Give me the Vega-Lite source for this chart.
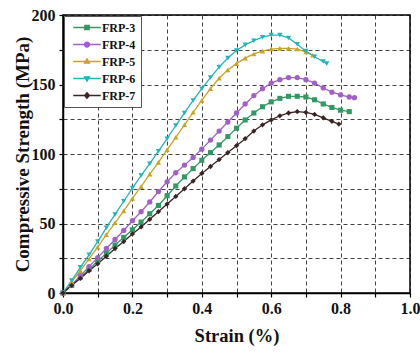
{
  "$schema": "https://vega.github.io/schema/vega-lite/v6.json",
  "width": 347,
  "height": 278,
  "autosize": {"type": "none"},
  "padding": {"left": 63, "top": 15, "right": 10, "bottom": 59},
  "background": "white",
  "config": {
    "view": {"stroke": "black", "strokeWidth": 1.5},
    "font": "Liberation Serif",
    "axis": {
      "labelFont": "Liberation Serif", "labelFontWeight": "bold", "labelFontSize": 16, "labelColor": "#111",
      "titleFont": "Liberation Serif", "titleFontWeight": "bold", "titleFontSize": 18.5, "titleColor": "#111",
      "domainColor": "black", "domainWidth": 1.5, "tickColor": "black", "tickWidth": 1.2,
      "gridColor": "#111", "gridDash": [4, 3], "gridWidth": 1, "gridOpacity": 0.8
    }
  },
  "data": {"values": [
    {"s":"FRP-3","x":0,"y":0},{"s":"FRP-3","x":0.025,"y":5.5},{"s":"FRP-3","x":0.05,"y":11.5},{"s":"FRP-3","x":0.075,"y":17},{"s":"FRP-3","x":0.1,"y":23},{"s":"FRP-3","x":0.125,"y":28.5},{"s":"FRP-3","x":0.15,"y":34.5},{"s":"FRP-3","x":0.175,"y":40},{"s":"FRP-3","x":0.2,"y":45.5},{"s":"FRP-3","x":0.225,"y":51},{"s":"FRP-3","x":0.25,"y":57},{"s":"FRP-3","x":0.275,"y":63},{"s":"FRP-3","x":0.3,"y":70},{"s":"FRP-3","x":0.325,"y":77},{"s":"FRP-3","x":0.35,"y":83.5},{"s":"FRP-3","x":0.375,"y":89.5},{"s":"FRP-3","x":0.4,"y":95.5},{"s":"FRP-3","x":0.425,"y":101},{"s":"FRP-3","x":0.45,"y":106.5},{"s":"FRP-3","x":0.475,"y":112.5},{"s":"FRP-3","x":0.5,"y":118.5},{"s":"FRP-3","x":0.525,"y":124.5},{"s":"FRP-3","x":0.55,"y":129.5},{"s":"FRP-3","x":0.575,"y":134},{"s":"FRP-3","x":0.6,"y":137.5},{"s":"FRP-3","x":0.625,"y":140},{"s":"FRP-3","x":0.65,"y":141.5},{"s":"FRP-3","x":0.675,"y":141.5},{"s":"FRP-3","x":0.7,"y":141},{"s":"FRP-3","x":0.725,"y":139},{"s":"FRP-3","x":0.75,"y":136},{"s":"FRP-3","x":0.775,"y":133.5},{"s":"FRP-3","x":0.8,"y":131.5},{"s":"FRP-3","x":0.825,"y":130.5},
    {"s":"FRP-4","x":0,"y":0},{"s":"FRP-4","x":0.025,"y":6},{"s":"FRP-4","x":0.05,"y":12.5},{"s":"FRP-4","x":0.075,"y":19},{"s":"FRP-4","x":0.1,"y":25.5},{"s":"FRP-4","x":0.125,"y":32},{"s":"FRP-4","x":0.15,"y":38.5},{"s":"FRP-4","x":0.175,"y":45},{"s":"FRP-4","x":0.2,"y":52},{"s":"FRP-4","x":0.225,"y":58.5},{"s":"FRP-4","x":0.25,"y":65.5},{"s":"FRP-4","x":0.275,"y":73},{"s":"FRP-4","x":0.3,"y":80},{"s":"FRP-4","x":0.325,"y":86.5},{"s":"FRP-4","x":0.35,"y":92},{"s":"FRP-4","x":0.375,"y":97.5},{"s":"FRP-4","x":0.4,"y":103.5},{"s":"FRP-4","x":0.425,"y":110},{"s":"FRP-4","x":0.45,"y":116.5},{"s":"FRP-4","x":0.475,"y":123},{"s":"FRP-4","x":0.5,"y":129.5},{"s":"FRP-4","x":0.525,"y":136},{"s":"FRP-4","x":0.55,"y":142},{"s":"FRP-4","x":0.575,"y":147},{"s":"FRP-4","x":0.6,"y":151},{"s":"FRP-4","x":0.625,"y":153.5},{"s":"FRP-4","x":0.65,"y":155},{"s":"FRP-4","x":0.675,"y":155},{"s":"FRP-4","x":0.7,"y":153.5},{"s":"FRP-4","x":0.725,"y":151},{"s":"FRP-4","x":0.75,"y":147.5},{"s":"FRP-4","x":0.775,"y":144.5},{"s":"FRP-4","x":0.8,"y":142.5},{"s":"FRP-4","x":0.825,"y":141},{"s":"FRP-4","x":0.84,"y":140.5},
    {"s":"FRP-5","x":0,"y":0},{"s":"FRP-5","x":0.025,"y":8},{"s":"FRP-5","x":0.05,"y":16},{"s":"FRP-5","x":0.075,"y":24.5},{"s":"FRP-5","x":0.1,"y":33},{"s":"FRP-5","x":0.125,"y":42},{"s":"FRP-5","x":0.15,"y":50.5},{"s":"FRP-5","x":0.175,"y":59},{"s":"FRP-5","x":0.2,"y":68},{"s":"FRP-5","x":0.225,"y":76.5},{"s":"FRP-5","x":0.25,"y":85.5},{"s":"FRP-5","x":0.275,"y":94},{"s":"FRP-5","x":0.3,"y":103},{"s":"FRP-5","x":0.325,"y":112},{"s":"FRP-5","x":0.35,"y":121},{"s":"FRP-5","x":0.375,"y":130},{"s":"FRP-5","x":0.4,"y":138.5},{"s":"FRP-5","x":0.425,"y":147},{"s":"FRP-5","x":0.45,"y":154.5},{"s":"FRP-5","x":0.475,"y":160.5},{"s":"FRP-5","x":0.5,"y":165},{"s":"FRP-5","x":0.525,"y":169},{"s":"FRP-5","x":0.55,"y":172},{"s":"FRP-5","x":0.575,"y":174},{"s":"FRP-5","x":0.6,"y":175.5},{"s":"FRP-5","x":0.625,"y":176},{"s":"FRP-5","x":0.65,"y":176},{"s":"FRP-5","x":0.675,"y":175.5},{"s":"FRP-5","x":0.7,"y":173.5},{"s":"FRP-5","x":0.72,"y":171},
    {"s":"FRP-6","x":0,"y":0},{"s":"FRP-6","x":0.025,"y":9},{"s":"FRP-6","x":0.05,"y":18.5},{"s":"FRP-6","x":0.075,"y":27.5},{"s":"FRP-6","x":0.1,"y":37},{"s":"FRP-6","x":0.125,"y":47},{"s":"FRP-6","x":0.15,"y":56.5},{"s":"FRP-6","x":0.175,"y":66},{"s":"FRP-6","x":0.2,"y":75.5},{"s":"FRP-6","x":0.225,"y":84.5},{"s":"FRP-6","x":0.25,"y":93},{"s":"FRP-6","x":0.275,"y":102},{"s":"FRP-6","x":0.3,"y":111},{"s":"FRP-6","x":0.325,"y":120.5},{"s":"FRP-6","x":0.35,"y":129.5},{"s":"FRP-6","x":0.375,"y":138.5},{"s":"FRP-6","x":0.4,"y":147},{"s":"FRP-6","x":0.425,"y":155},{"s":"FRP-6","x":0.45,"y":162.5},{"s":"FRP-6","x":0.475,"y":169},{"s":"FRP-6","x":0.5,"y":174.5},{"s":"FRP-6","x":0.525,"y":178.5},{"s":"FRP-6","x":0.55,"y":181.5},{"s":"FRP-6","x":0.575,"y":184},{"s":"FRP-6","x":0.6,"y":185.5},{"s":"FRP-6","x":0.625,"y":185.5},{"s":"FRP-6","x":0.65,"y":183.5},{"s":"FRP-6","x":0.675,"y":179},{"s":"FRP-6","x":0.7,"y":174},{"s":"FRP-6","x":0.725,"y":170},{"s":"FRP-6","x":0.75,"y":166.5},{"s":"FRP-6","x":0.76,"y":165},
    {"s":"FRP-7","x":0,"y":0},{"s":"FRP-7","x":0.025,"y":5.5},{"s":"FRP-7","x":0.05,"y":10.5},{"s":"FRP-7","x":0.075,"y":16},{"s":"FRP-7","x":0.1,"y":21},{"s":"FRP-7","x":0.125,"y":26.5},{"s":"FRP-7","x":0.15,"y":32},{"s":"FRP-7","x":0.175,"y":37},{"s":"FRP-7","x":0.2,"y":42.5},{"s":"FRP-7","x":0.225,"y":47.5},{"s":"FRP-7","x":0.25,"y":53},{"s":"FRP-7","x":0.275,"y":58.5},{"s":"FRP-7","x":0.3,"y":64},{"s":"FRP-7","x":0.325,"y":69.5},{"s":"FRP-7","x":0.35,"y":75},{"s":"FRP-7","x":0.375,"y":80.5},{"s":"FRP-7","x":0.4,"y":86},{"s":"FRP-7","x":0.425,"y":91},{"s":"FRP-7","x":0.45,"y":96},{"s":"FRP-7","x":0.475,"y":101},{"s":"FRP-7","x":0.5,"y":106},{"s":"FRP-7","x":0.525,"y":111},{"s":"FRP-7","x":0.55,"y":116.5},{"s":"FRP-7","x":0.575,"y":121},{"s":"FRP-7","x":0.6,"y":124.5},{"s":"FRP-7","x":0.625,"y":127.5},{"s":"FRP-7","x":0.65,"y":129.5},{"s":"FRP-7","x":0.675,"y":130.5},{"s":"FRP-7","x":0.7,"y":130},{"s":"FRP-7","x":0.725,"y":128.5},{"s":"FRP-7","x":0.75,"y":126},{"s":"FRP-7","x":0.775,"y":123.5},{"s":"FRP-7","x":0.795,"y":121.5}
  ]},
  "encoding": {
    "x": {"field": "x", "type": "quantitative", "scale": {"domain": [0, 1], "nice": false},
      "axis": {"title": "Strain (%)", "values": [0,0.1,0.2,0.3,0.4,0.5,0.6,0.7,0.8,0.9,1.0], "grid": true,
        "labelExpr": "round(datum.value*10) % 2 === 0 ? format(datum.value, '.1f') : ''",
        "tickSize": 4, "labelPadding": 3, "titlePadding": 10, "labelFlush": false}},
    "y": {"field": "y", "type": "quantitative", "scale": {"domain": [0, 200], "nice": false},
      "axis": {"title": "Compressive Strength (MPa)", "titleFontSize": 19, "values": [0,25,50,75,100,125,150,175,200], "grid": true,
        "labelExpr": "datum.value % 50 === 0 ? format(datum.value, 'd') : ''",
        "tickSize": 4, "labelPadding": 4, "titlePadding": -1, "labelFlush": false}},
    "color": {"field": "s", "type": "nominal",
      "scale": {"domain": ["FRP-3","FRP-4","FRP-5","FRP-6","FRP-7"], "range": ["#2f9a63","#a35fc8","#c9a326","#22b3bb","#3b2424"]},
      "legend": {
        "title": null, "orient": "top-left", "offset": 1,
        "strokeColor": "#555", "fillColor": "white", "padding": 5,
        "labelFont": "Liberation Serif", "labelFontWeight": "bold", "labelFontSize": 12, "labelColor": "#111",
        "symbolSize": 121, "symbolStrokeWidth": 1.3, "rowPadding": 4, "labelOffset": 20,
        "encode": {"symbols": {"update": {
          "shape": {"signal": "datum.value === 'FRP-3' ? 'M-2.5,0H2.5M-0.4,-0.4H0.4V0.4H-0.4Z' : datum.value === 'FRP-4' ? 'M-2.5,0H2.5M-0.45,0A0.45,0.45,0,1,1,0.45,0A0.45,0.45,0,1,1,-0.45,0Z' : datum.value === 'FRP-5' ? 'M-2.5,0H2.5M0,-0.5L0.45,0.3H-0.45Z' : datum.value === 'FRP-6' ? 'M-2.5,0H2.5M0,0.5L0.45,-0.3H-0.45Z' : 'M-2.5,0H2.5M0,-0.5L0.45,0L0,0.5L-0.45,0Z'"},
          "stroke": {"signal": "scale('color', datum.value)"},
          "fill": {"signal": "scale('color', datum.value)"},
          "xc": {"value": 18}
        }}}
      }
    }
  },
  "layer": [
    {"mark": {"type": "line", "strokeWidth": 1.3}, "encoding": {"detail": {"field": "s"}}},
    {"transform": [{"filter": "datum.s === 'FRP-3'"}], "mark": {"type": "point", "filled": true, "opacity": 1, "size": 26, "shape": "square"}},
    {"transform": [{"filter": "datum.s === 'FRP-4'"}], "mark": {"type": "point", "filled": true, "opacity": 1, "size": 28, "shape": "circle"}},
    {"transform": [{"filter": "datum.s === 'FRP-5'"}], "mark": {"type": "point", "filled": true, "opacity": 1, "size": 28, "shape": "triangle-up"}},
    {"transform": [{"filter": "datum.s === 'FRP-6'"}], "mark": {"type": "point", "filled": true, "opacity": 1, "size": 28, "shape": "triangle-down"}},
    {"transform": [{"filter": "datum.s === 'FRP-7'"}], "mark": {"type": "point", "filled": true, "opacity": 1, "size": 28, "shape": "diamond"}}
  ]
}
